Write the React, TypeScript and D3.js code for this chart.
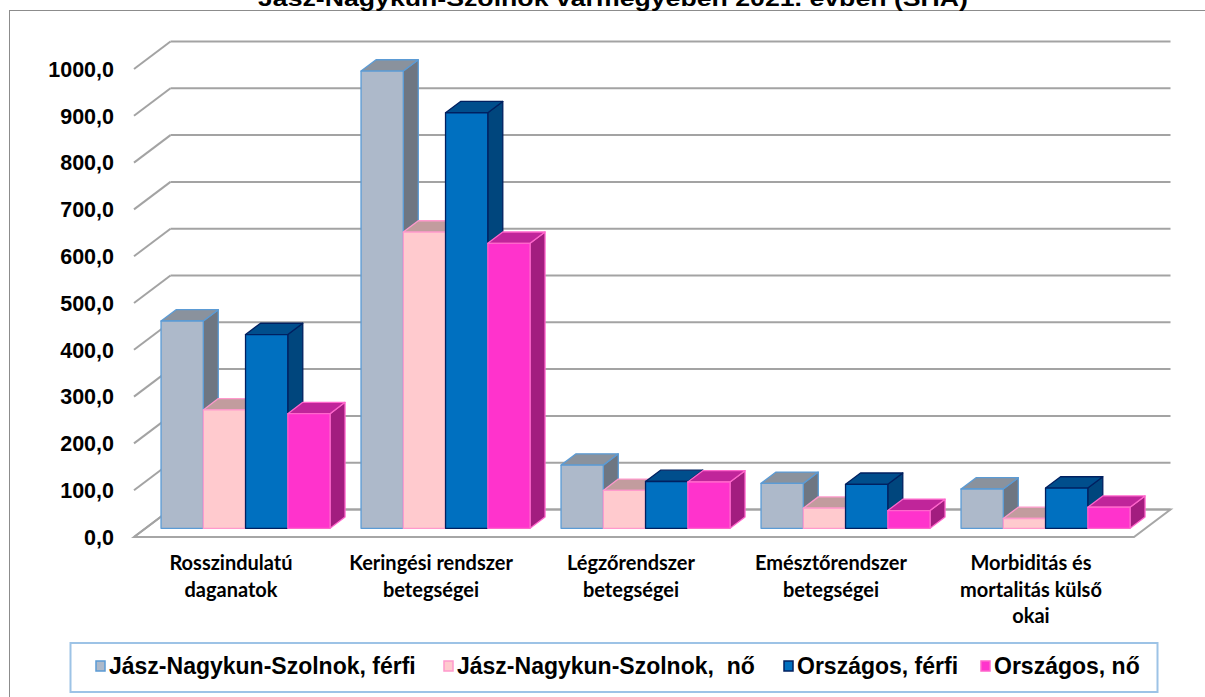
import React from 'react';
import * as d3 from 'd3';

const categories = [
  'Rosszindulatú|daganatok',
  'Keringési rendszer|betegségei',
  'Légzőrendszer|betegségei',
  'Emésztőrendszer|betegségei',
  'Morbiditás és|mortalitás külső|okai',
];
const seriesNames = [
  'Jász-Nagykun-Szolnok, férfi',
  'Jász-Nagykun-Szolnok,  nő',
  'Országos, férfi',
  'Országos, nő',
];
const jnszFerfi = [443, 977, 135, 96, 84];
const jnszNo = [253, 633, 81, 43, 21];
const orszFerfi = [414, 888, 100, 94, 86];
const orszNo = [245, 609, 99, 38, 45];
const yTicks = [0, 100, 200, 300, 400, 500, 600, 700, 800, 900, 1000];
const title = 'Jász-Nagykun-Szolnok vármegyében 2021. évben (SHA)';

const seriesValues = [jnszFerfi, jnszNo, orszFerfi, orszNo];
const seriesStyle = [
  { front: '#ADB9CA', top: '#8A929D', side: '#6E7682', stroke: '#5B9BD5' },
  { front: '#FFCACE', top: '#C29C9E', side: '#A58083', stroke: '#FF99CC' },
  { front: '#0070C0', top: '#004E8C', side: '#00467D', stroke: '#002060' },
  { front: '#FF33CC', top: '#C0259A', side: '#A21D7F', stroke: '#FF66CC' },
];
const legendX = [96, 444, 784, 981];

const W = 1205;
const H = 697;
const FX0 = 134;
const FX1 = 1134;
const FY0 = 537;
const DX = 36.5;
const DY = -27.5;
const Z0 = 0.316;
const Z1 = 0.727;

export default function App() {
  const x = d3.scaleBand<string>().domain(categories).range([FX0, FX1]);
  const xs = d3.scaleBand<number>().domain([0, 1, 2, 3]).range([15.5, 184.5]);
  const y = d3.scaleLinear().domain([0, 1000]).range([0, 468]);
  const P = (px: number, v: number, z: number): [number, number] => [px + z * DX, FY0 - y(v) + z * DY];
  const poly = (pts: [number, number][]) => pts.map((p) => p.join(',')).join(' ');
  const line = d3.line();

  const bars: JSX.Element[] = [];
  categories.forEach((c, ci) => {
    seriesValues.forEach((vals, si) => {
      const v = vals[ci];
      const x0 = (x(c) as number) + (xs(si) as number);
      const x1 = x0 + xs.bandwidth();
      const st = seriesStyle[si];
      const front = [P(x0, 0, Z0), P(x1, 0, Z0), P(x1, v, Z0), P(x0, v, Z0)];
      const top = [P(x0, v, Z0), P(x1, v, Z0), P(x1, v, Z1), P(x0, v, Z1)];
      const side = [P(x1, 0, Z0), P(x1, v, Z0), P(x1, v, Z1), P(x1, 0, Z1)];
      bars.push(
        <g key={`b${ci}-${si}`} stroke={st.stroke} strokeWidth={1.3} strokeLinejoin="round">
          <polygon points={poly(side)} fill={st.side} />
          <polygon points={poly(top)} fill={st.top} />
          <polygon points={poly(front)} fill={st.front} />
        </g>
      );
    });
  });

  return (
    <svg width={W} height={H} style={{ position: 'absolute', left: 0, top: 0 }} fontFamily="'Liberation Sans', Arial, sans-serif">
      <rect x={0} y={0} width={W} height={H} fill="#fff" />
      <rect x={9.5} y={10.5} width={1220} height={720} fill="none" stroke="#8c8c8c" strokeWidth={1} />
      <text x={613} y={5.5} textAnchor="middle" fontWeight="bold" fontSize={21.5} textLength={710} lengthAdjust="spacingAndGlyphs">
        {title}
      </text>

      {/* floor */}
      <polygon
        points={poly([P(FX0, 0, 0), P(FX1, 0, 0), P(FX1, 0, 1), P(FX0, 0, 1)])}
        fill="#fff"
        stroke="#a6a6a6"
        strokeWidth={2}
      />
      {/* gridlines */}
      {yTicks.map((t) => (
        <g key={`g${t}`} stroke="#a3a3a3" strokeWidth={2} fill="none">
          <path d={line([P(FX0, t, 1), P(FX1, t, 1)]) as string} />
          <path d={line([P(FX0, t, 0), P(FX0, t, 1)]) as string} />
        </g>
      ))}
      {/* y labels */}
      {yTicks.map((t) => (
        <text
          key={`yl${t}`}
          x={114}
          y={P(FX0, t, 0)[1]}
          dy="0.36em"
          textAnchor="end"
          fontWeight="bold"
          fontSize={21.5}
          fill="#000"
        >
          {d3.format('.1f')(t).replace('.', ',')}
        </text>
      ))}

      {bars}

      {/* category labels */}
      {categories.map((c) => {
        const cx = (x(c) as number) + x.bandwidth() / 2 - 3;
        return (
          <text key={`c${c}`} textAnchor="middle" fontFamily="Lato, 'Open Sans', sans-serif" fontWeight="bold" fontSize={20} fill="#000">
            {c.split('|').map((ln, i) => (
              <tspan key={i} x={cx} y={570 + i * 26.5}>
                {ln}
              </tspan>
            ))}
          </text>
        );
      })}

      {/* legend */}
      <rect x={70.5} y={643} width={1087} height={49} fill="#fff" stroke="#9DC3E6" strokeWidth={2} />
      {seriesNames.map((s, i) => (
        <g key={`l${i}`}>
          <rect
            x={legendX[i]}
            y={661}
            width={9}
            height={10}
            fill={seriesStyle[i].front}
            stroke={seriesStyle[i].stroke}
            strokeWidth={1.5}
          />
          <text x={legendX[i] + 13} y={674} fontWeight="bold" fontSize={23} style={{ whiteSpace: 'pre' }}>
            {s}
          </text>
        </g>
      ))}
    </svg>
  );
}
